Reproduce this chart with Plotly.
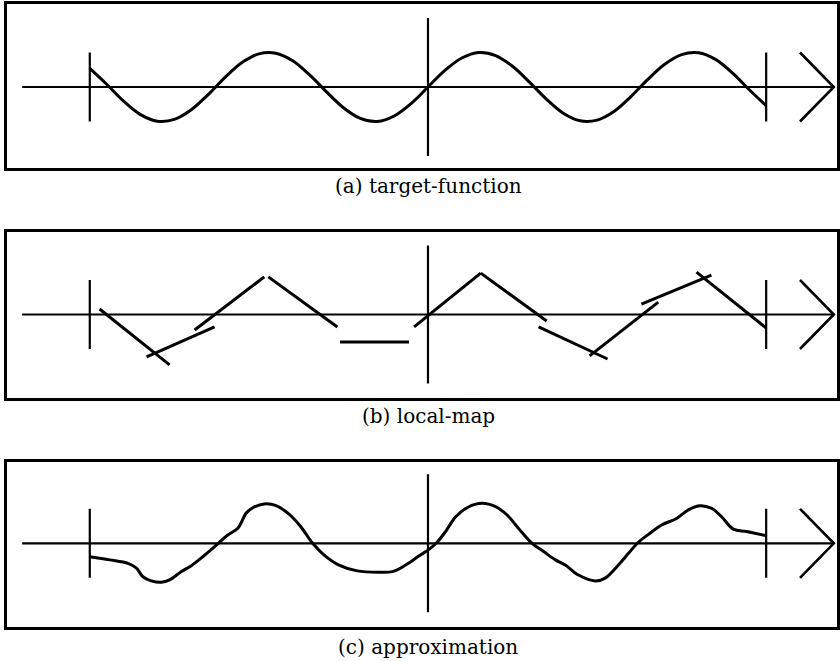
import plotly.graph_objects as go

# ---------------- data ----------------
# (a) target function, sampled every 0.5 units
target_x = [-10.0, -9.5, -9.0, -8.5, -8.0, -7.5, -7.0, -6.5, -6.0, -5.5, -5.0,
            -4.5, -4.0, -3.5, -3.0, -2.5, -2.0, -1.5, -1.0, -0.5, 0.0,
            0.5, 1.0, 1.5, 2.0, 2.5, 3.0, 3.5, 4.0, 4.5, 5.0,
            5.5, 6.0, 6.5, 7.0, 7.5, 8.0, 8.5, 9.0, 9.5, 10.0]
target_y = [0.54, 0.08, -0.41, -0.80, -0.99, -0.94, -0.66, -0.22, 0.28, 0.71, 0.96,
            0.98, 0.76, 0.35, -0.14, -0.60, -0.91, -1.00, -0.84, -0.48, 0.00,
            0.48, 0.84, 1.00, 0.91, 0.60, 0.14, -0.35, -0.76, -0.98, -0.96,
            -0.71, -0.28, 0.22, 0.66, 0.94, 0.99, 0.80, 0.41, -0.08, -0.54]

# (b) local map: straight segments (start x, start y, end x, end y)
seg_x0 = [-9.71, -8.32, -6.90, -4.72, -2.60, -0.41, 1.56, 3.27, 4.78, 6.31, 7.94]
seg_y0 = [0.16, -1.23, -0.45, 1.09, -0.80, -0.36, 1.20, -0.36, -1.20, 0.30, 1.23]
seg_x1 = [-7.64, -6.31, -4.84, -2.68, -0.56, 1.56, 3.51, 5.31, 6.81, 8.38, 10.00]
seg_y1 = [-1.46, -0.36, 1.09, -0.36, -0.80, 1.20, -0.19, -1.29, 0.36, 1.14, -0.39]

# (c) approximation curve
approx_x = [-10.00, -9.41, -8.87, -8.62, -8.43, -8.18, -7.88, -7.64, -7.29, -7.00,
            -6.66, -6.36, -6.17, -5.92, -5.63, -5.53, -5.38, -5.18, -4.84, -4.49,
            -4.10, -3.76, -3.41, -3.07, -2.63, -2.09, -1.45, -1.05, -0.66, -0.27,
            0.01, 0.27, 0.52, 0.82, 1.21, 1.60, 2.00, 2.34, 2.68, 3.08,
            3.42, 3.77, 4.06, 4.45, 4.95, 5.24, 5.63, 5.93, 6.22, 6.52,
            6.91, 7.35, 7.70, 8.04, 8.39, 8.68, 9.03, 9.42, 10.01]
approx_y = [-0.39, -0.48, -0.58, -0.72, -0.97, -1.09, -1.13, -1.06, -0.82, -0.65,
            -0.39, -0.14, 0.03, 0.24, 0.43, 0.58, 0.87, 1.03, 1.14, 1.09,
            0.84, 0.48, 0.00, -0.34, -0.63, -0.80, -0.84, -0.82, -0.63, -0.37,
            -0.19, 0.03, 0.34, 0.77, 1.06, 1.16, 1.06, 0.82, 0.43, 0.00,
            -0.24, -0.48, -0.63, -0.92, -1.09, -1.01, -0.63, -0.29, 0.03, 0.26,
            0.53, 0.72, 0.97, 1.09, 1.01, 0.77, 0.41, 0.34, 0.22]

# diagram axes
axis_x = [-12.0, 12.0]
tick_x = [-10.0, 0.0, 10.0]
tick_half = [1.0, 2.0, 1.0]
arrow_x = [11.0, 12.0, 11.0]
arrow_y = [1.0, 0.0, -1.0]

captions = ["(a) target-function", "(b) local-map", "(c) approximation"]

# ---------------- layout geometry (pixels) ----------------
W, H = 840, 661
PX_PER_X = 33.9
PX_PER_Y = 34.5
X_ZERO = 429.0
BOX_LEFT, BOX_RIGHT = 7.3, 839.0
boxes = [(4.0, 168.0, 87.0), (232.3, 397.7, 314.5), (461.7, 626.7, 543.3)]
caption_y = [186.0, 415.5, 646.5]

BLACK = "#000000"
fig = go.Figure()

def add_axes_traces(k):
    xa, ya = ("x", "y") if k == 1 else (f"x{k}", f"y{k}")
    lw = 2.2
    fig.add_trace(go.Scatter(x=axis_x, y=[0, 0], mode="lines",
                             line=dict(color=BLACK, width=lw), xaxis=xa, yaxis=ya))
    for tx, th in zip(tick_x, tick_half):
        fig.add_trace(go.Scatter(x=[tx, tx], y=[-th, th], mode="lines",
                                 line=dict(color=BLACK, width=lw), xaxis=xa, yaxis=ya))
    fig.add_trace(go.Scatter(x=arrow_x, y=arrow_y, mode="lines",
                             line=dict(color=BLACK, width=2.6), xaxis=xa, yaxis=ya))
    return xa, ya

# panel a
xa, ya = add_axes_traces(1)
fig.add_trace(go.Scatter(x=target_x, y=target_y, mode="lines", line_shape="spline",
                         line=dict(color=BLACK, width=3), xaxis=xa, yaxis=ya))
# panel b
xa, ya = add_axes_traces(2)
for x0, y0, x1, y1 in zip(seg_x0, seg_y0, seg_x1, seg_y1):
    fig.add_trace(go.Scatter(x=[x0, x1], y=[y0, y1], mode="lines",
                             line=dict(color=BLACK, width=3), xaxis=xa, yaxis=ya))
# panel c
xa, ya = add_axes_traces(3)
fig.add_trace(go.Scatter(x=approx_x, y=approx_y, mode="lines", line_shape="spline",
                         line=dict(color=BLACK, width=3), xaxis=xa, yaxis=ya))

layout = dict(width=W, height=H, margin=dict(l=0, r=0, t=0, b=0),
              paper_bgcolor="white", plot_bgcolor="white", showlegend=False)

xr = [(BOX_LEFT - X_ZERO) / PX_PER_X, (BOX_RIGHT - X_ZERO) / PX_PER_X]
xd = [BOX_LEFT / W, BOX_RIGHT / W]
annotations = []
for i, (top, bot, zero) in enumerate(boxes, start=1):
    sx = "" if i == 1 else str(i)
    yr = [-(bot - zero) / PX_PER_Y, (zero - top) / PX_PER_Y]
    yd = [1 - bot / H, 1 - top / H]
    ax_common = dict(showgrid=False, zeroline=False, showticklabels=False, ticks="",
                     showline=True, mirror=True, linecolor=BLACK, linewidth=2.5,
                     fixedrange=True)
    layout["xaxis" + sx] = dict(domain=xd, range=xr, anchor="y" + sx, **ax_common)
    layout["yaxis" + sx] = dict(domain=yd, range=yr, anchor="x" + sx, **ax_common)
    annotations.append(dict(text=captions[i - 1], xref="paper", yref="paper",
                            x=429.5 / W, y=1 - caption_y[i - 1] / H,
                            xanchor="center", yanchor="middle", showarrow=False,
                            font=dict(family="DejaVu Serif", size=20, color=BLACK)))
layout["annotations"] = annotations
fig.update_layout(**layout)
fig.write_html("out.html")
